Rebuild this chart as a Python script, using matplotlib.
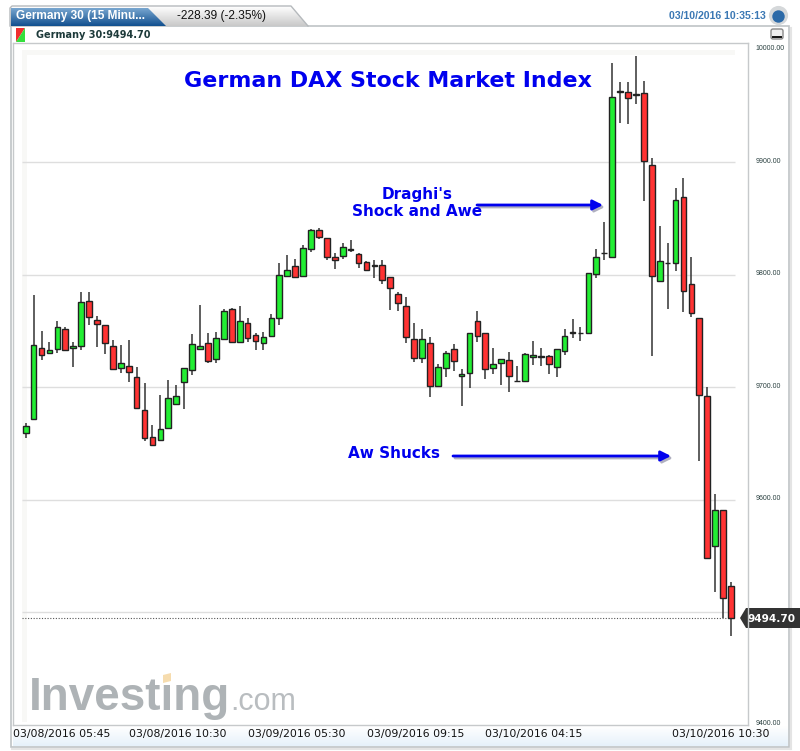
import matplotlib
matplotlib.use('Agg')
import matplotlib.pyplot as plt
import numpy as np
from matplotlib.patches import Polygon, Rectangle, FancyBboxPatch
from matplotlib.transforms import ScaledTranslation

opens = [9659.1, 9671.5, 9734.7, 9730.2, 9733.8, 9752.1, 9734.7, 9736.4, 9776.7, 9760.1,
         9755.7, 9736.4, 9717.2, 9718.7, 9709.2, 9679.5, 9655.8, 9653.5, 9663.8, 9684.9,
         9705.0, 9715.4, 9733.8, 9739.1, 9724.8, 9742.6, 9769.9, 9740.0, 9757.4, 9746.2,
         9739.1, 9745.3, 9761.9, 9798.6, 9808.1, 9798.6, 9822.9, 9839.5, 9832.7, 9815.8,
         9817.0, 9822.0, 9818.8, 9811.7, 9808.1, 9809.0, 9797.7, 9782.9, 9772.3, 9742.6,
         9725.8, 9739.1, 9701.2, 9717.2, 9733.8, 9710.1, 9712.7, 9759.2, 9748.0, 9717.2,
         9721.3, 9724.3, 9705.3, 9705.9, 9726.6, 9727.2, 9727.5, 9717.8, 9732.0, 9748.3,
         9748.0, 9748.6, 9800.4, 9819.1, 9816.1, 9962.8, 9962.2, 9960.1, 9961.3, 9897.3,
         9794.2, 9810.2, 9810.2, 9869.4, 9791.5, 9761.9, 9692.6, 9559.2, 9590.9, 9523.4]
closes = [9665.6, 9737.3, 9728.4, 9732.9, 9753.3, 9732.9, 9736.4, 9775.8, 9762.8, 9756.6,
          9739.1, 9716.3, 9721.6, 9713.6, 9681.3, 9655.2, 9649.0, 9662.7, 9690.2, 9692.6,
          9717.2, 9738.2, 9736.4, 9723.1, 9743.5, 9768.1, 9740.0, 9759.2, 9743.5, 9740.9,
          9745.0, 9761.9, 9799.5, 9804.5, 9797.7, 9824.1, 9839.5, 9833.9, 9816.1, 9813.4,
          9824.7, 9822.9, 9810.8, 9804.0, 9808.7, 9795.1, 9788.0, 9775.0, 9744.4, 9725.8,
          9742.6, 9701.5, 9717.8, 9730.2, 9723.1, 9711.8, 9748.0, 9745.9, 9716.3, 9720.7,
          9724.9, 9710.1, 9705.9, 9729.6, 9728.4, 9727.8, 9720.7, 9733.8, 9745.3, 9748.9,
          9748.6, 9801.3, 9816.1, 9819.7, 9958.0, 9963.4, 9957.4, 9960.7, 9901.1, 9799.2,
          9812.5, 9810.8, 9866.2, 9785.6, 9766.0, 9693.4, 9548.0, 9590.9, 9512.4, 9494.7]
highs = [9668.0, 9782.1, 9750.1, 9740.0, 9759.0, 9753.9, 9740.0, 9784.4, 9785.0, 9763.4,
         9755.7, 9742.1, 9737.9, 9741.8, 9717.8, 9703.5, 9666.5, 9692.9, 9706.2, 9701.8,
         9717.2, 9747.1, 9772.9, 9747.9, 9748.8, 9769.6, 9770.8, 9772.3, 9761.9, 9748.0,
         9748.8, 9764.8, 9810.2, 9817.3, 9813.7, 9826.5, 9840.4, 9841.6, 9832.7, 9819.1,
         9828.0, 9830.9, 9819.1, 9812.6, 9813.1, 9813.1, 9797.7, 9785.0, 9780.0, 9757.5,
         9751.8, 9745.0, 9720.7, 9732.6, 9738.5, 9716.0, 9748.0, 9768.1, 9748.0, 9734.6,
         9724.9, 9731.4, 9718.9, 9730.2, 9740.9, 9734.6, 9728.4, 9733.8, 9751.5, 9761.0,
         9753.3, 9801.3, 9822.6, 9847.2, 9988.0, 9971.1, 9971.1, 9994.5, 9972.2, 9903.5,
         9843.6, 9827.9, 9877.4, 9885.7, 9815.5, 9761.9, 9700.6, 9604.9, 9590.9, 9526.6]
lows = [9654.7, 9671.0, 9724.3, 9729.6, 9730.8, 9732.9, 9718.4, 9733.5, 9755.1, 9736.1,
        9729.9, 9716.3, 9712.4, 9705.0, 9681.3, 9652.6, 9649.0, 9652.6, 9663.2, 9684.9,
        9681.0, 9711.0, 9732.9, 9721.3, 9721.3, 9742.6, 9740.0, 9739.4, 9740.6, 9733.1,
        9733.1, 9745.0, 9755.1, 9797.7, 9797.4, 9798.3, 9820.3, 9832.1, 9813.1, 9804.8,
        9814.3, 9820.0, 9806.3, 9803.4, 9797.4, 9791.8, 9768.7, 9768.1, 9739.1, 9722.8,
        9721.3, 9691.1, 9701.2, 9708.9, 9714.8, 9683.4, 9699.1, 9740.6, 9707.1, 9711.5,
        9702.3, 9695.8, 9705.0, 9705.9, 9720.1, 9718.9, 9711.8, 9709.5, 9728.4, 9744.1,
        9740.9, 9748.6, 9796.8, 9813.1, 9816.1, 9934.9, 9934.3, 9951.5, 9865.6, 9728.1,
        9793.3, 9769.3, 9803.6, 9766.6, 9762.2, 9634.8, 9548.0, 9517.7, 9494.6, 9478.9]

last_price = 9494.70
price_ticks = [9400, 9500, 9600, 9700, 9800, 9900, 10000]
price_labels = ['9400.00', '', '9600.00', '9700.00', '9800.00', '9900.00', '10000.00']
grid_prices = [9500, 9600, 9700, 9800, 9900]
time_ticks = [4.6, 19.2, 34.2, 49.2, 64.1, 87.7]
time_labels = ['03/08/2016 05:45', '03/08/2016 10:30', '03/09/2016 05:30',
               '03/09/2016 09:15', '03/10/2016 04:15', '03/10/2016 10:30']

W, H = 800, 751
fig = plt.figure(figsize=(W / 100, H / 100), dpi=100, facecolor='white')

# chrome around the chart, in pixel coordinates
bg = fig.add_axes([0, 0, 1, 1], zorder=0)
bg.set_xlim(0, W)
bg.set_ylim(H, 0)
bg.axis('off')


def gradient(top, bottom, extent, clip=None):
    c0 = np.array(matplotlib.colors.to_rgb(top))
    c1 = np.array(matplotlib.colors.to_rgb(bottom))
    t = np.linspace(0, 1, 32)[:, None, None]
    img = c0[None, None, :] * (1 - t) + c1[None, None, :] * t
    im = bg.imshow(img, extent=extent, aspect='auto', interpolation='bilinear', zorder=2)
    if clip is not None:
        patch = Polygon(clip, closed=True, transform=bg.transData, fc='none', ec='none')
        bg.add_patch(patch)
        im.set_clip_path(patch)


# outer frame
bg.add_patch(Rectangle((11, 26), 778, 721, fc='white', ec='#bfc3c6', lw=1.2, zorder=1))
bg.plot([790.5, 790.5], [28, 749], color='#e4e4e4', lw=1.5, zorder=1)
bg.plot([12, 790], [748.5, 748.5], color='#e4e4e4', lw=1.5, zorder=1)

# tabs
grey_tab = [(10, 26), (10, 8), (12, 6), (291, 6), (308, 26)]
gradient('#ffffff', '#c9c9c9', (10, 308, 26, 6), grey_tab)
bg.plot([10, 10, 12, 291, 308], [26, 8, 6, 6, 26], color='#b5b9bc', lw=1, zorder=3)
blue_tab = [(11, 26), (11, 8), (148, 8), (166, 26)]
gradient('#78a6d0', '#12508f', (11, 166, 26, 8), blue_tab)
bg.text(16, 16.5, 'Germany 30 (15 Minu...', color='white', fontsize=8.6, fontweight='bold',
        family='Liberation Sans', va='center', zorder=4)
bg.text(177, 16.5, '-228.39 (-2.35%)', color='#111111', fontsize=8.6,
        family='Liberation Sans', va='center', zorder=4)
bg.text(669, 16, '03/10/2016 10:35:13', color='#3b78b4', fontsize=7.6, fontweight='bold',
        family='Liberation Sans', va='center', zorder=4)

# globe and minus button
bg.scatter([778], [15], s=190, color='#d5d8da', zorder=3, linewidths=0)
bg.scatter([778], [15.5], s=80, color='#2c6aa8', zorder=4, linewidths=0)
bg.add_patch(FancyBboxPatch((771, 29), 12, 10, boxstyle='round,pad=0,rounding_size=2',
                            fc='#efefef', ec='#8a8a8a', lw=1, zorder=3))
bg.plot([773, 781], [36.5, 36.5], color='#111111', lw=1.4, zorder=4)

# legend row
bg.add_patch(Polygon([(16, 28), (25, 28), (16, 42)], fc='#f02f2f', zorder=3))
bg.add_patch(Polygon([(25, 28), (25, 42), (16, 42)], fc='#33e03c', zorder=3))
bg.text(36, 35, 'Germany 30:9494.70', color='#1d3a3a', fontsize=7, fontweight='bold',
        family='DejaVu Sans', va='center', zorder=4)

# soft inner panel
bg.add_patch(Rectangle((22, 50), 713, 672, fc='#f8f8f6', ec='none', zorder=1))
bg.add_patch(Rectangle((27, 55), 708, 667, fc='#ffffff', ec='none', zorder=1))

# time axis band
gradient('#ffffff', '#e6f1fa', (13, 788, 746, 726))

# watermark
bg.text(29, 710, 'Investing', color='#aeb3b6', fontsize=33, fontweight='bold',
        family='Liberation Sans', va='baseline', zorder=3)
bg.text(230, 710, '.com', color='#b9bdc0', fontsize=22,
        family='Liberation Sans', va='baseline', zorder=3)
bg.add_patch(Polygon([(163, 675), (171, 673), (171, 681), (163, 683)], fc='#f6dcae', zorder=4))

# headline and notes
blue = '#0000ee'
bg.text(387.5, 81, 'German DAX Stock Market Index', color=blue, fontsize=15.9, fontweight='bold',
        family='DejaVu Sans', ha='center', va='center', zorder=4)
bg.text(417, 194, "Draghi's", color=blue, fontsize=11, fontweight='bold',
        family='DejaVu Sans', ha='center', va='center', zorder=4)
bg.text(417, 212, 'Shock and Awe', color=blue, fontsize=11, fontweight='bold',
        family='DejaVu Sans', ha='center', va='center', zorder=4)
bg.text(394, 454, 'Aw Shucks', color=blue, fontsize=11, fontweight='bold',
        family='DejaVu Sans', ha='center', va='center', zorder=4)
for x0, x1, y in [(477, 603, 205), (453, 671, 456)]:
    bg.annotate('', xy=(x1 + 2, y + 2), xytext=(x0 + 2, y + 2), zorder=3,
                arrowprops=dict(arrowstyle='-|>', color='#b0b0c0', lw=2, mutation_scale=15,
                                shrinkA=0, shrinkB=0))
    bg.annotate('', xy=(x1, y), xytext=(x0, y), zorder=4,
                arrowprops=dict(arrowstyle='-|>', color=blue, lw=2, mutation_scale=15,
                                shrinkA=0, shrinkB=0))

# last price badge
bg.add_patch(Polygon([(740, 618), (746, 608), (800, 608), (800, 628), (746, 628)],
                     fc='#333333', ec='none', zorder=4))
bg.text(772, 618.5, '%.2f' % last_price, color='white', fontsize=7.6, fontweight='bold',
        family='DejaVu Sans', ha='center', va='center', zorder=5)

bg.set_xlim(0, W)
bg.set_ylim(H, 0)

# the price chart
ax = fig.add_axes([13 / W, 1 - 725 / H, 735 / W, 682 / H], zorder=1, facecolor='none')
ax.set_xlim(-1.60, 91.14)
ax.set_ylim(9399.8, 10006)

x = np.arange(len(opens))
grid_left, grid_right = -0.47, 89.5
ax.hlines(grid_prices, grid_left, grid_right, color='#dedede', lw=1, zorder=1)
ax.hlines(last_price, grid_left, grid_right, color='#555555', lw=0.8, linestyles=(0, (1, 1.5)), zorder=1)

colors = ['#22ee33' if c >= o else '#ff3333' for o, c in zip(opens, closes)]
bottoms = np.minimum(opens, closes)
heights = np.abs(np.array(closes) - np.array(opens))
ax.vlines(x, lows, highs, color='#333333', lw=1.1, zorder=2)
ax.bar(x, heights, bottom=bottoms, width=0.72, color=colors, edgecolor='#222222', linewidth=1, zorder=3)

ax.yaxis.tick_right()
ax.set_yticks(price_ticks)
ax.set_yticklabels(price_labels, family='Liberation Sans', fontsize=5, color='#2a4040')
ax.set_xticks(time_ticks)
ax.set_xticklabels(time_labels, family='DejaVu Sans', fontsize=7.8, color='#111111')
ax.tick_params(axis='y', length=0, pad=5.5)
ax.tick_params(axis='x', length=0, pad=3)
for lab in ax.get_yticklabels():
    lab.set_transform(lab.get_transform() + ScaledTranslation(0, 2 / 100, fig.dpi_scale_trans))
for s in ax.spines.values():
    s.set_color('#c6c9cb')
    s.set_linewidth(1)

fig.savefig('out.png', dpi=100)
